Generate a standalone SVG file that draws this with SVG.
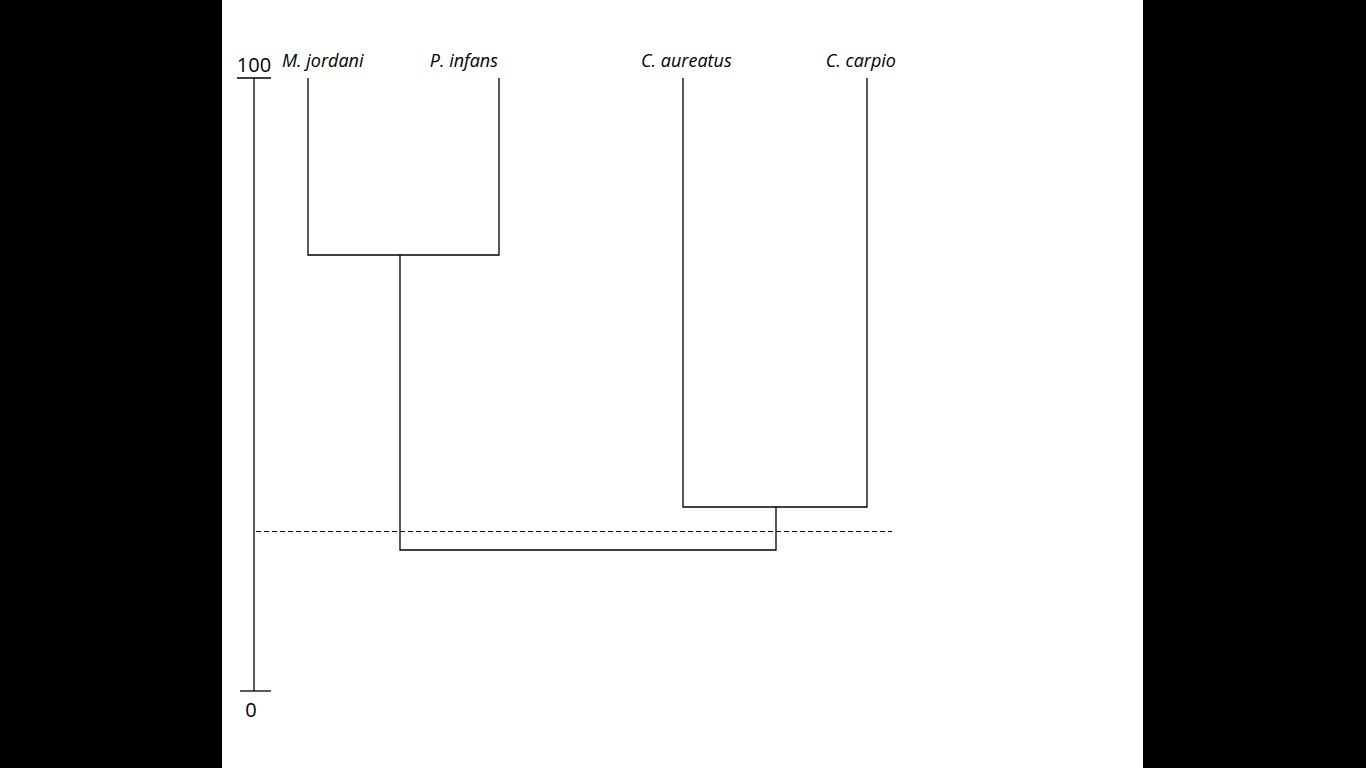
<svg xmlns="http://www.w3.org/2000/svg" width="1366" height="768" viewBox="0 0 1366 768">
<style>
.ln{stroke:#000;stroke-width:1.3;fill:none}
.dash{stroke:#000;stroke-width:1;stroke-dasharray:5 3;fill:none}
.lbl{font-family:"Open Sans","Liberation Sans",sans-serif;font-style:italic;font-size:18px;fill:#000}
.num{font-family:"Open Sans","Liberation Sans",sans-serif;font-size:20px;fill:#000}
</style>
<rect x="0" y="0" width="1366" height="768" fill="#000"/>
<rect x="222" y="0" width="921" height="768" fill="#fff"/>
<g id="axis">
<line class="ln" x1="254" y1="78" x2="254" y2="691"/>
<line class="ln" x1="237" y1="78" x2="271" y2="78"/>
<line class="ln" x1="240" y1="691" x2="271" y2="691"/>
<text class="num" x="254" y="72" text-anchor="middle">100</text>
<text class="num" x="251" y="717" text-anchor="middle">0</text>
</g>
<g id="labels">
<text class="lbl" x="282" y="67">M. jordani</text>
<text class="lbl" x="498" y="67" text-anchor="end">P. infans</text>
<text class="lbl" x="641" y="67">C. aureatus</text>
<text class="lbl" x="896" y="67" text-anchor="end">C. carpio</text>
</g>
<g id="connectors">
<polyline class="ln" points="308,78 308,255 499,255 499,78"/>
<polyline class="ln" points="683,78 683,507 867,507 867,78"/>
<polyline class="ln" points="400,255 400,550 776,550 776,507"/>
<line class="dash" x1="256" y1="531.5" x2="892" y2="531.5"/>
</g>
</svg>
